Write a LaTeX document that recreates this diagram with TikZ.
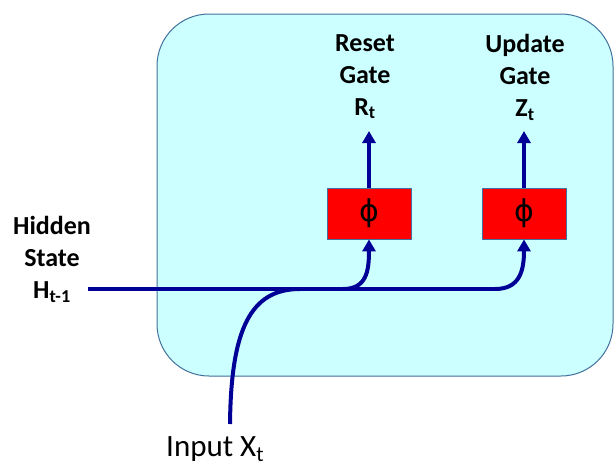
\documentclass[tikz,border=0pt]{standalone}
\usepackage{fontspec}
\setmainfont{Carlito}
\newfontfamily\greekfont{DejaVu Sans}
\usetikzlibrary{arrows.meta}

\definecolor{cellfill}{RGB}{204,255,255}
\definecolor{celledge}{RGB}{65,113,156}
\definecolor{wire}{RGB}{0,0,150}
\definecolor{gatered}{RGB}{255,0,0}

\tikzset{
  cell/.style={draw=celledge, line width=1pt, fill=cellfill, rounded corners=52pt},
  gatebox/.style={draw=celledge, line width=0.8pt, fill=gatered,
    minimum width=84pt, minimum height=51pt, inner sep=0pt,
    font=\greekfont\fontsize{30}{30}\selectfont},
  lab/.style={font=\bfseries\fontsize{26}{32}\selectfont, align=center,
    inner sep=0pt, anchor=north},
  wireline/.style={draw=wire, line width=4pt},
  wirearrow/.style={wireline, -{Triangle[length=12pt,width=13pt]}},
}

\begin{document}
\begin{tikzpicture}[x=1pt, y=-1pt]
  \useasboundingbox (0,0) rectangle (615,466);

  % the GRU cell
  \draw[cell] (157,14) rectangle (613,376);

  % sigmoid gates
  \node[gatebox] (rg) at (369,213.5) {ϕ};
  \node[gatebox] (zg) at (524,213.5) {ϕ};

  % gate outputs
  \node[lab] (rlab) at (365,34) {Reset\\Gate\\R\textsubscript{t}};
  \node[lab] (zlab) at (525,34) {Update\\Gate\\Z\textsubscript{t}};
  \coordinate (rout) at (369,131);
  \coordinate (zout) at (524,131);
  \draw[wirearrow] (rg.north) -- (rout);
  \draw[wirearrow] (zg.north) -- (zout);

  % inputs
  \node[lab] (hlab) at (52,216) {Hidden\\State\\H\textsubscript{t-1}};
  \node[font=\fontsize{31}{36}\selectfont, inner sep=0pt, anchor=base west]
    (xlab) at (166,456) {Input X\textsubscript{t}};

  \coordinate (hstart) at (88,289);
  \coordinate (xstart) at (230,424);
  \coordinate (merge) at (300,289);
  \coordinate (rsplit) at (343,289);
  \coordinate (zsplit) at (495,289);

  % hidden state line
  \draw[wireline] (hstart) -- (zsplit);
  % input joins the hidden state line
  \draw[wireline] (xstart) .. controls (231,330) and (250,289) .. (merge);
  % branches into the gates
  \draw[wirearrow] (rsplit) .. controls (366,289) and (369,272) .. (rg.south);
  \draw[wirearrow] (zsplit) .. controls (519,289) and (524,272) .. (zg.south);
\end{tikzpicture}
\end{document}
